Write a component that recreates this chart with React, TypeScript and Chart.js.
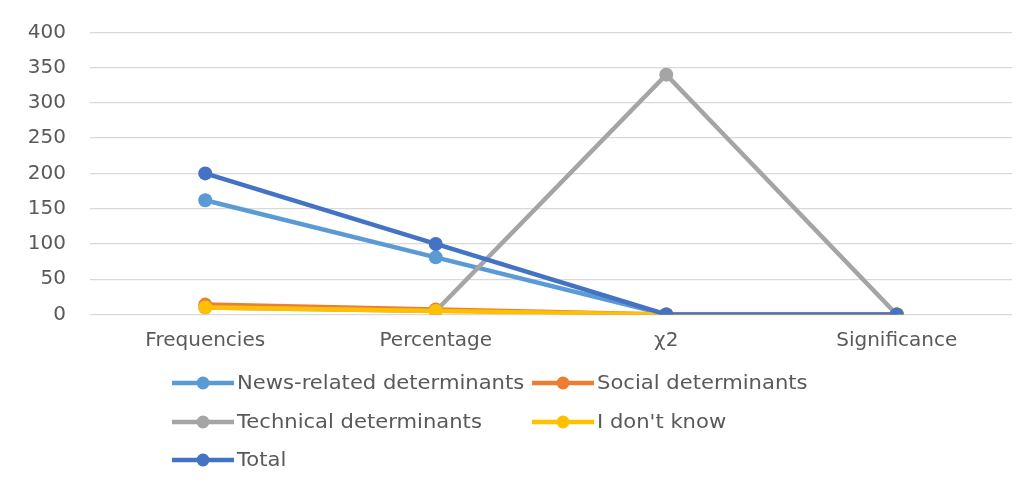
import { useEffect, useRef } from "react";
import { Chart, registerables } from "chart.js";

Chart.register(...registerables);

// Chart data
const categories = ["Frequencies", "Percentage", "χ2", "Significance"];
const newsRelated = [162, 81, 0, 0];
const social = [14, 7, 0, 0];
const technical = [10, 5, 340, 0];
const dontKnow = [10, 5, 0, 0];
const total = [200, 100, 0, 0];
const seriesNames = [
  "News-related determinants",
  "Social determinants",
  "Technical determinants",
  "I don't know",
  "Total",
];
const seriesValues = [newsRelated, social, technical, dontKnow, total];
const seriesColors = ["#5B9BD5", "#ED7D31", "#A5A5A5", "#FFC000", "#4472C4"];
const yMin = 0;
const yMax = 400;
const yStep = 50;

const FONT_FAMILY = "'DejaVu Sans', sans-serif";
const TEXT_COLOR = "#595959";

// Two-column legend under the plot, drawn with line + marker swatches
const gridLegend = {
  id: "gridLegend",
  afterDraw(chart: any) {
    const ctx = chart.ctx as CanvasRenderingContext2D;
    const cols = [164, 524];
    const rows = [375, 414, 452];
    chart.data.datasets.forEach((ds: any, i: number) => {
      const x = cols[i % 2];
      const y = rows[Math.floor(i / 2)];
      ctx.save();
      ctx.strokeStyle = ds.borderColor;
      ctx.lineWidth = 4.5;
      ctx.beginPath();
      ctx.moveTo(x, y);
      ctx.lineTo(x + 62, y);
      ctx.stroke();
      ctx.fillStyle = ds.borderColor;
      ctx.beginPath();
      ctx.arc(x + 31, y, 6.5, 0, Math.PI * 2);
      ctx.fill();
      ctx.font = `20px ${FONT_FAMILY}`;
      ctx.fillStyle = TEXT_COLOR;
      ctx.textBaseline = "middle";
      ctx.textAlign = "left";
      ctx.translate(x + 65, y + 1);
      ctx.scale(1.055, 1);
      ctx.fillText(ds.label, 0, 0);
      ctx.restore();
    });
  },
};

export default function App() {
  const canvasRef = useRef<HTMLCanvasElement | null>(null);

  useEffect(() => {
    if (!canvasRef.current) return;
    const chart = new Chart(canvasRef.current, {
      type: "line",
      data: {
        labels: categories,
        datasets: seriesNames.map((name, i) => ({
          label: name,
          data: seriesValues[i],
          borderColor: seriesColors[i],
          backgroundColor: seriesColors[i],
          pointBackgroundColor: seriesColors[i],
          pointBorderColor: seriesColors[i],
          borderWidth: 4.5,
          pointRadius: 7,
          pointBorderWidth: 0,
          tension: 0,
          fill: false,
          // later series are painted over earlier ones
          order: -i,
        })),
      },
      options: {
        animation: false,
        responsive: true,
        maintainAspectRatio: false,
        layout: { padding: { top: 24.3, right: 18, left: 0, bottom: 0 } },
        plugins: {
          legend: { display: false },
          tooltip: { enabled: false },
        },
        scales: {
          x: {
            offset: true,
            grid: { display: false },
            border: { display: false },
            ticks: {
              color: TEXT_COLOR,
              font: { family: FONT_FAMILY, size: 20 },
              padding: 6,
            },
            afterFit(scale: any) {
              scale.height = 171.5;
            },
          },
          y: {
            min: yMin,
            max: yMax,
            grid: { color: "#D9D9D9", lineWidth: 1.3, drawTicks: false },
            border: { display: false },
            ticks: {
              stepSize: yStep,
              color: TEXT_COLOR,
              font: { family: FONT_FAMILY, size: 20 },
              padding: 24,
            },
            afterFit(scale: any) {
              scale.width = 82;
              scale.paddingTop = 0;
              scale.paddingBottom = 0;
            },
          },
        },
      },
      plugins: [gridLegend],
    });
    return () => chart.destroy();
  }, []);

  return (
    <div
      style={{
        marginLeft: -1,
        marginTop: -1,
        width: 1022,
        borderTop: "1px solid #D9D9D9",
        borderLeft: "1px solid #D9D9D9",
      }}
    >
      <div style={{ position: "relative", width: 1022, height: 478 }}>
        <canvas ref={canvasRef} />
      </div>
    </div>
  );
}
